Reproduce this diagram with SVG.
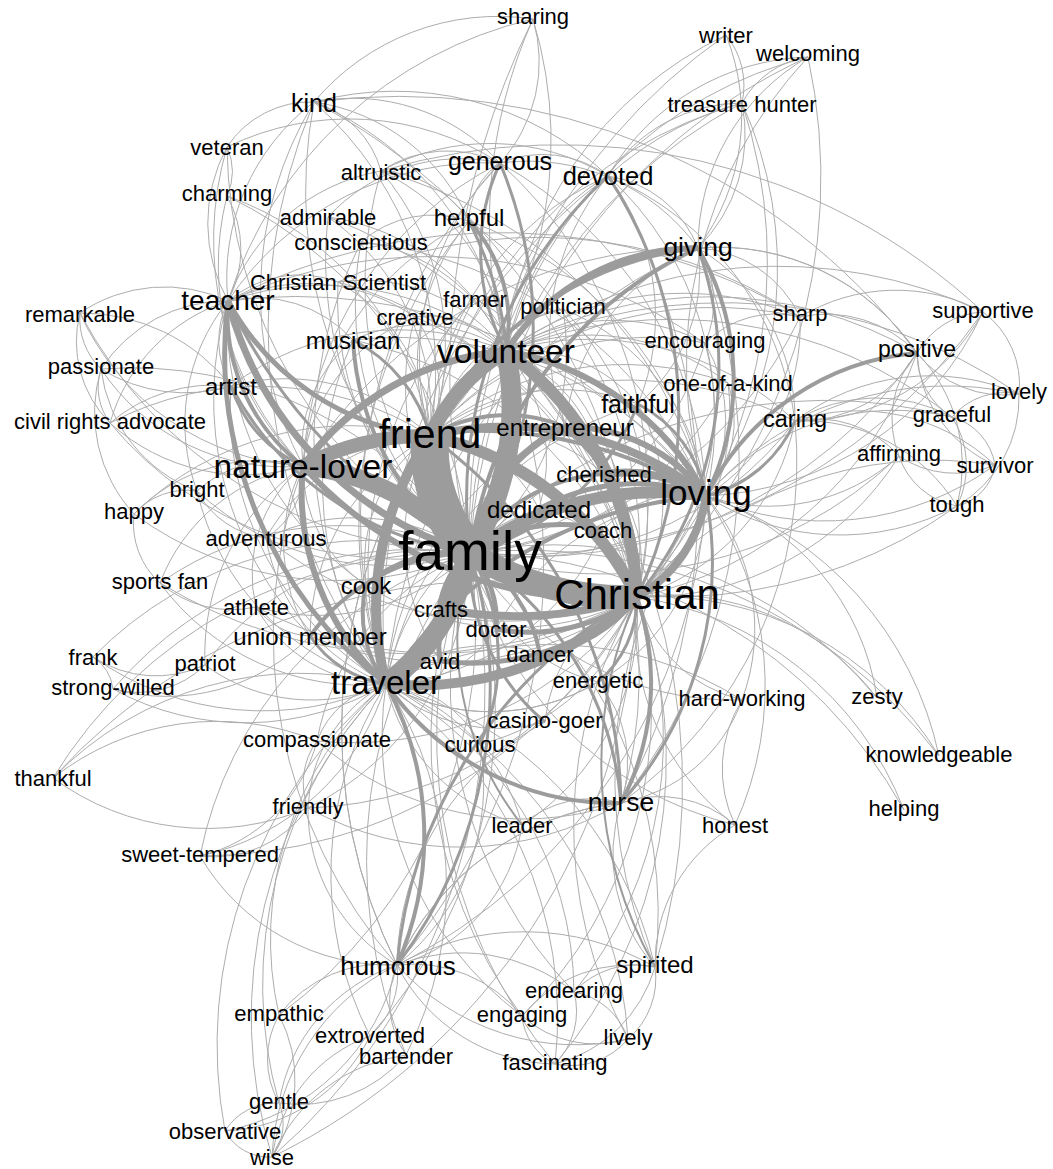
<svg xmlns="http://www.w3.org/2000/svg" width="1053" height="1169" viewBox="0 0 1053 1169" font-size="22">
<style>
.e{fill:none;stroke:#adadad;stroke-width:1}
.k{fill:none;stroke:#9c9c9c}
text{font-family:"Liberation Sans",Arial,sans-serif;fill:#000;text-anchor:middle;dominant-baseline:central}
</style>
<rect width="1053" height="1169" fill="#fff"/>
<g id="connectors">
<g class="e">
<path d="M533 19A800 800 0 0 0 470 553"/><path d="M533 19A500 500 0 0 0 506 351"/><path d="M533 19A240 240 0 0 0 314 102"/><path d="M533 19A420 420 0 0 0 228 301"/><path d="M533 19A420 420 0 0 1 430 436"/><path d="M533 19A150 150 0 0 1 500 163"/>
<path d="M726 35A600 600 0 0 0 470 553"/><path d="M726 35A80 80 0 0 1 742 103"/><path d="M726 35A390 390 0 0 0 506 351"/><path d="M726 35A220 220 0 0 1 698 248"/>
<path d="M808 57A240 240 0 0 0 608 176"/><path d="M808 57A420 420 0 0 0 506 351"/><path d="M808 57A580 580 0 0 0 470 553"/><path d="M808 57A220 220 0 0 0 698 248"/><path d="M808 57A450 450 0 0 0 706 496"/><path d="M808 57A570 570 0 0 1 637 597"/><path d="M808 57A90 90 0 0 0 742 103"/>
<path d="M742 103A160 160 0 0 0 608 176"/><path d="M742 103A160 160 0 0 1 698 248"/><path d="M742 103A330 330 0 0 0 506 351"/><path d="M742 103A510 510 0 0 0 470 553"/><path d="M742 103A400 400 0 0 1 706 496"/><path d="M742 103A500 500 0 0 1 637 597"/><path d="M742 103A440 440 0 0 0 430 436"/>
<path d="M314 102A370 370 0 0 0 303 466"/><path d="M314 102A590 590 0 0 0 386 684"/><path d="M314 102A360 360 0 0 1 430 436"/><path d="M314 102A480 480 0 0 0 470 553"/><path d="M314 102A100 100 0 0 0 227 147"/><path d="M314 102A100 100 0 0 1 381 171"/><path d="M314 102A200 200 0 0 1 500 163"/><path d="M314 102A320 320 0 0 1 506 351"/><path d="M314 102A220 220 0 0 0 228 301"/><path d="M314 102A200 200 0 0 1 469 221"/><path d="M314 102A600 600 0 0 1 637 597"/><path d="M314 102A310 310 0 0 1 608 176"/><path d="M314 102A650 650 0 0 1 917 353"/>
<path d="M227 147A160 160 0 0 0 228 301"/><path d="M227 147A330 330 0 0 0 303 466"/><path d="M227 147A280 280 0 0 1 500 163"/><path d="M227 147A470 470 0 0 0 470 553"/><path d="M227 147A60 60 0 0 1 227 196"/>
<path d="M227 196A110 110 0 0 1 228 301"/><path d="M227 196A280 280 0 0 0 303 466"/><path d="M227 196A430 430 0 0 1 470 553"/><path d="M227 196A310 310 0 0 1 430 436"/>
<path d="M381 171A120 120 0 0 1 500 163"/><path d="M381 171A220 220 0 0 1 506 351"/><path d="M381 171A400 400 0 0 0 470 553"/><path d="M381 171A200 200 0 0 0 228 301"/><path d="M381 171A110 110 0 0 1 469 221"/><path d="M381 171A270 270 0 0 1 430 436"/><path d="M381 171A460 460 0 0 1 706 496"/><path d="M381 171A230 230 0 0 1 608 176"/><path d="M381 171A620 620 0 0 1 983 312"/>
<path d="M328 217A370 370 0 0 0 470 553"/><path d="M328 217A230 230 0 0 1 506 351"/><path d="M328 217A180 180 0 0 1 500 163"/><path d="M328 217A240 240 0 0 1 430 436"/><path d="M328 217A480 480 0 0 1 637 597"/>
<path d="M361 242A330 330 0 0 0 470 553"/><path d="M361 242A180 180 0 0 1 506 351"/><path d="M361 242A110 110 0 0 1 469 221"/><path d="M361 242A445 445 0 0 0 386 684"/><path d="M361 242A420 420 0 0 1 706 496"/>
<path d="M338 282A310 310 0 0 0 470 553"/><path d="M338 282A420 420 0 0 1 637 597"/><path d="M338 282A180 180 0 0 1 506 351"/><path d="M338 282A110 110 0 0 0 228 301"/><path d="M338 282A180 180 0 0 1 430 436"/><path d="M338 282A470 470 0 0 1 800 317"/>
<path d="M500 163A280 280 0 0 0 430 436"/><path d="M500 163A450 450 0 0 1 637 597"/><path d="M500 163A400 400 0 0 1 706 496"/><path d="M500 163A110 110 0 0 1 608 176"/><path d="M500 163A210 210 0 0 1 698 248"/><path d="M500 163A70 70 0 0 0 469 221"/><path d="M500 163A310 310 0 0 0 228 301"/><path d="M500 163A530 530 0 0 0 386 684"/><path d="M500 163A360 360 0 0 0 303 466"/>
<path d="M608 176A200 200 0 0 0 506 351"/><path d="M608 176A330 330 0 0 1 706 496"/><path d="M608 176A115 115 0 0 1 698 248"/><path d="M608 176A300 300 0 0 0 430 436"/><path d="M608 176A560 560 0 0 0 386 684"/><path d="M608 176A255 255 0 0 0 565 427"/><path d="M608 176A230 230 0 0 1 638 404"/><path d="M608 176A310 310 0 0 1 795 421"/><path d="M608 176A630 630 0 0 1 621 803"/>
<path d="M469 221A220 220 0 0 0 430 436"/><path d="M469 221A400 400 0 0 1 637 597"/><path d="M469 221A300 300 0 0 0 303 466"/><path d="M469 221A475 475 0 0 0 386 684"/><path d="M469 221A370 370 0 0 1 706 496"/>
<path d="M698 248A220 220 0 0 0 565 427"/><path d="M698 248A170 170 0 0 1 638 404"/><path d="M698 248A520 520 0 0 0 386 684"/><path d="M698 248A460 460 0 0 0 303 466"/><path d="M698 248A200 200 0 0 1 795 421"/><path d="M698 248A560 560 0 0 1 621 803"/><path d="M698 248A240 240 0 0 1 917 353"/><path d="M698 248A100 100 0 0 1 705 343"/>
<path d="M475 298A255 255 0 0 0 470 553"/><path d="M475 298A340 340 0 0 1 637 597"/><path d="M475 298A70 70 0 0 1 506 351"/><path d="M475 298A145 145 0 0 0 430 436"/><path d="M475 298A390 390 0 0 0 386 684"/>
<path d="M563 309A260 260 0 0 1 470 553"/><path d="M563 309A300 300 0 0 1 637 597"/><path d="M563 309A70 70 0 0 0 506 351"/><path d="M563 309A185 185 0 0 0 430 436"/><path d="M563 309A230 230 0 0 1 706 496"/>
<path d="M415 317A250 250 0 0 0 470 553"/><path d="M415 317A100 100 0 0 1 506 351"/><path d="M415 317A120 120 0 0 1 430 436"/><path d="M415 317A370 370 0 0 1 637 597"/><path d="M415 317A180 180 0 0 0 303 466"/><path d="M415 317A190 190 0 0 0 228 301"/>
<path d="M353 340A155 155 0 0 1 506 351"/><path d="M353 340A350 350 0 0 0 386 684"/><path d="M353 340A380 380 0 0 1 637 597"/><path d="M353 340A140 140 0 0 0 303 466"/><path d="M353 340A130 130 0 0 0 228 301"/><path d="M353 340A380 380 0 0 1 706 496"/>
<path d="M228 301A290 290 0 0 1 506 351"/><path d="M228 301A90 90 0 0 0 231 386"/><path d="M228 301A520 520 0 0 1 706 496"/><path d="M228 301A340 340 0 0 0 310 636"/><path d="M228 301A320 320 0 0 0 366 585"/><path d="M228 301A575 575 0 0 1 800 317"/>
<path d="M80 313A150 150 0 0 1 228 301"/><path d="M80 313A70 70 0 0 0 101 369"/><path d="M80 313A260 260 0 0 0 303 466"/><path d="M80 313A190 190 0 0 1 231 386"/><path d="M80 313A115 115 0 0 0 110 423"/><path d="M80 313A450 450 0 0 0 470 553"/>
<path d="M101 369A150 150 0 0 1 228 301"/><path d="M101 369A220 220 0 0 0 303 466"/><path d="M101 369A160 160 0 0 0 231 386"/><path d="M101 369A400 400 0 0 1 470 553"/><path d="M101 369A60 60 0 0 0 110 423"/><path d="M101 369A150 150 0 0 0 197 491"/><path d="M101 369A150 150 0 0 0 134 514"/>
<path d="M110 423A200 200 0 0 0 303 466"/><path d="M110 423A160 160 0 0 1 231 386"/><path d="M110 423A380 380 0 0 0 470 553"/><path d="M110 423A180 180 0 0 1 228 301"/><path d="M110 423A320 320 0 0 1 430 436"/>
<path d="M231 386A210 210 0 0 1 430 436"/><path d="M231 386A320 320 0 0 0 386 684"/><path d="M231 386A280 280 0 0 1 506 351"/>
<path d="M197 491A110 110 0 0 1 303 466"/><path d="M197 491A280 280 0 0 0 470 553"/><path d="M197 491A70 70 0 0 0 134 514"/><path d="M197 491A195 195 0 0 1 228 301"/><path d="M197 491A90 90 0 0 0 266 538"/><path d="M197 491A260 260 0 0 0 386 684"/>
<path d="M134 514A175 175 0 0 1 303 466"/><path d="M134 514A340 340 0 0 0 470 553"/><path d="M134 514A80 80 0 0 0 160 583"/><path d="M134 514A310 310 0 0 1 430 436"/>
<path d="M266 538A205 205 0 0 1 470 553"/><path d="M266 538A80 80 0 0 0 303 466"/><path d="M266 538A190 190 0 0 0 386 684"/><path d="M266 538A200 200 0 0 1 430 436"/><path d="M266 538A380 380 0 0 0 637 597"/>
<path d="M160 583A315 315 0 0 1 470 553"/><path d="M160 583A185 185 0 0 1 303 466"/><path d="M160 583A250 250 0 0 0 386 684"/><path d="M160 583A110 110 0 0 0 256 607"/><path d="M160 583A480 480 0 0 0 637 597"/>
<path d="M256 607A220 220 0 0 0 470 553"/><path d="M256 607A150 150 0 0 0 386 684"/><path d="M256 607A140 140 0 0 1 303 466"/><path d="M256 607A70 70 0 0 0 310 636"/><path d="M256 607A380 380 0 0 0 637 597"/>
<path d="M366 585A155 155 0 0 1 430 436"/><path d="M366 585A270 270 0 0 0 637 597"/><path d="M366 585A140 140 0 0 1 303 466"/>
<path d="M310 636A170 170 0 0 1 303 466"/><path d="M310 636A330 330 0 0 0 637 597"/><path d="M310 636A230 230 0 0 1 430 436"/>
<path d="M93 657A115 115 0 0 0 205 665"/><path d="M93 657A295 295 0 0 0 386 684"/><path d="M93 657A45 45 0 0 1 113 689"/><path d="M93 657A390 390 0 0 1 470 553"/>
<path d="M205 665A180 180 0 0 0 386 684"/><path d="M205 665A280 280 0 0 1 470 553"/><path d="M205 665A230 230 0 0 1 303 466"/>
<path d="M113 689A275 275 0 0 0 386 684"/><path d="M113 689A400 400 0 0 1 470 553"/><path d="M113 689A95 95 0 0 0 205 665"/><path d="M113 689A200 200 0 0 0 310 636"/>
<path d="M317 741A90 90 0 0 1 386 684"/><path d="M317 741A250 250 0 0 1 470 553"/><path d="M317 741A350 350 0 0 0 637 597"/><path d="M317 741A265 265 0 0 0 53 778"/><path d="M317 741A70 70 0 0 0 308 808"/><path d="M317 741A310 310 0 0 0 621 803"/><path d="M317 741A160 160 0 0 1 200 856"/>
<path d="M53 778A345 345 0 0 1 386 684"/><path d="M53 778A260 260 0 0 0 308 808"/><path d="M53 778A470 470 0 0 1 470 553"/><path d="M53 778A600 600 0 0 1 637 597"/>
<path d="M308 808A145 145 0 0 1 386 684"/><path d="M308 808A290 290 0 0 0 470 553"/><path d="M308 808A380 380 0 0 0 637 597"/><path d="M308 808A180 180 0 0 0 397 965"/><path d="M308 808A115 115 0 0 1 200 856"/><path d="M308 808A315 315 0 0 0 621 803"/>
<path d="M200 856A250 250 0 0 0 386 684"/><path d="M200 856A400 400 0 0 1 470 553"/><path d="M200 856A220 220 0 0 0 397 965"/><path d="M200 856A500 500 0 0 0 637 597"/>
<path d="M386 684A225 225 0 0 1 539 509"/><path d="M386 684A320 320 0 0 1 565 427"/><path d="M386 684A110 110 0 0 1 480 744"/><path d="M386 684A165 165 0 0 0 545 722"/><path d="M386 684A190 190 0 0 0 522 825"/><path d="M386 684A210 210 0 0 0 598 682"/>
<path d="M441 609A95 95 0 0 1 386 684"/><path d="M441 609A175 175 0 0 0 430 436"/>
<path d="M496 629A120 120 0 0 1 386 684"/><path d="M496 629A250 250 0 0 1 706 496"/>
<path d="M540 654A155 155 0 0 0 386 684"/>
<path d="M440 661A60 60 0 0 0 386 684"/><path d="M440 661A225 225 0 0 1 430 436"/>
<path d="M598 682A175 175 0 0 1 470 553"/><path d="M598 682A210 210 0 0 1 386 684"/><path d="M598 682A215 215 0 0 0 706 496"/><path d="M598 682A125 125 0 0 1 621 803"/>
<path d="M742 700A145 145 0 0 1 637 597"/><path d="M742 700A310 310 0 0 1 470 553"/><path d="M742 700A205 205 0 0 0 706 496"/><path d="M742 700A160 160 0 0 1 621 803"/><path d="M742 700A360 360 0 0 0 386 684"/><path d="M742 700A130 130 0 0 0 735 825"/>
<path d="M877 698A260 260 0 0 0 637 597"/><path d="M877 698A250 250 0 0 0 706 496"/><path d="M877 698A420 420 0 0 0 470 553"/>
<path d="M939 756A330 330 0 0 0 637 597"/><path d="M939 756A520 520 0 0 0 470 553"/><path d="M939 756A350 350 0 0 0 706 496"/>
<path d="M904 810A340 340 0 0 0 637 597"/><path d="M904 810A500 500 0 0 0 470 553"/>
<path d="M899 456A195 195 0 0 1 706 496"/><path d="M899 456A300 300 0 0 1 637 597"/><path d="M899 456A100 100 0 0 1 917 353"/><path d="M899 456A75 75 0 0 0 957 506"/><path d="M899 456A100 100 0 0 0 995 465"/><path d="M899 456A430 430 0 0 1 470 553"/><path d="M899 456A110 110 0 0 0 795 421"/>
<path d="M995 465A290 290 0 0 1 706 496"/><path d="M995 465A130 130 0 0 1 917 353"/><path d="M995 465A50 50 0 0 1 957 506"/><path d="M995 465A60 60 0 0 0 952 417"/><path d="M995 465A390 390 0 0 0 637 597"/><path d="M995 465A200 200 0 0 0 795 421"/>
<path d="M957 506A250 250 0 0 1 706 496"/><path d="M957 506A160 160 0 0 0 917 353"/><path d="M957 506A180 180 0 0 0 795 421"/><path d="M957 506A90 90 0 0 0 952 417"/><path d="M957 506A490 490 0 0 1 470 553"/><path d="M957 506A125 125 0 0 0 1019 394"/>
<path d="M952 417A250 250 0 0 0 706 496"/><path d="M952 417A75 75 0 0 1 917 353"/><path d="M952 417A157 157 0 0 0 795 421"/><path d="M952 417A70 70 0 0 1 1019 394"/><path d="M952 417A450 450 0 0 0 506 351"/><path d="M952 417A490 490 0 0 0 470 553"/>
<path d="M1019 394A320 320 0 0 0 706 496"/><path d="M1019 394A110 110 0 0 1 917 353"/><path d="M1019 394A225 225 0 0 0 795 421"/><path d="M1019 394A90 90 0 0 0 983 312"/><path d="M1019 394A520 520 0 0 0 506 351"/>
<path d="M983 312A320 320 0 0 1 706 496"/><path d="M983 312A185 185 0 0 0 800 317"/><path d="M983 312A80 80 0 0 0 917 353"/><path d="M983 312A210 210 0 0 1 795 421"/><path d="M983 312A480 480 0 0 0 506 351"/><path d="M983 312A570 570 0 0 1 470 553"/>
<path d="M917 353A410 410 0 0 0 506 351"/><path d="M917 353A470 470 0 0 1 470 553"/><path d="M917 353A135 135 0 0 1 795 421"/><path d="M917 353A380 380 0 0 1 637 597"/><path d="M917 353A125 125 0 0 0 800 317"/><path d="M917 353A240 240 0 0 0 698 248"/>
<path d="M800 317A200 200 0 0 1 706 496"/><path d="M800 317A300 300 0 0 0 506 351"/><path d="M800 317A420 420 0 0 1 470 553"/><path d="M800 317A100 100 0 0 0 705 343"/><path d="M800 317A120 120 0 0 0 698 248"/><path d="M800 317A380 380 0 0 0 430 436"/>
<path d="M705 343A155 155 0 0 1 706 496"/><path d="M705 343A200 200 0 0 0 506 351"/><path d="M705 343A300 300 0 0 1 470 553"/><path d="M705 343A260 260 0 0 1 637 597"/><path d="M705 343A290 290 0 0 0 430 436"/><path d="M705 343A480 480 0 0 0 228 301"/>
<path d="M728 383A115 115 0 0 1 706 496"/><path d="M728 383A315 315 0 0 1 470 553"/><path d="M728 383A225 225 0 0 0 506 351"/><path d="M728 383A230 230 0 0 1 637 597"/><path d="M728 383A300 300 0 0 0 430 436"/>
<path d="M795 421A340 340 0 0 1 470 553"/><path d="M795 421A230 230 0 0 1 637 597"/><path d="M795 421A300 300 0 0 0 506 351"/><path d="M795 421A370 370 0 0 0 430 436"/><path d="M795 421A420 420 0 0 1 621 803"/>
<path d="M638 404A195 195 0 0 1 637 597"/><path d="M638 404A150 150 0 0 0 506 351"/><path d="M638 404A210 210 0 0 0 430 436"/><path d="M638 404A370 370 0 0 0 386 684"/>
<path d="M565 427A95 95 0 0 0 506 351"/>
<path d="M604 474A125 125 0 0 1 637 597"/><path d="M604 474A180 180 0 0 0 430 436"/><path d="M604 474A160 160 0 0 0 506 351"/>
<path d="M539 509A130 130 0 0 1 637 597"/><path d="M539 509A130 130 0 0 0 430 436"/><path d="M539 509A165 165 0 0 0 506 351"/>
<path d="M603 530A75 75 0 0 1 637 597"/><path d="M603 530A110 110 0 0 1 706 496"/><path d="M603 530A250 250 0 0 1 386 684"/>
<path d="M506 351A460 460 0 0 1 621 803"/><path d="M506 351A620 620 0 0 1 397 965"/><path d="M506 351A620 620 0 0 1 655 967"/>
<path d="M430 436A530 530 0 0 0 397 965"/><path d="M303 466A500 500 0 0 0 397 965"/>
<path d="M621 803A280 280 0 0 0 397 965"/><path d="M621 803A170 170 0 0 0 655 967"/><path d="M621 803A105 105 0 0 0 522 825"/><path d="M621 803A115 115 0 0 1 735 825"/>
<path d="M522 825A200 200 0 0 0 386 684"/><path d="M522 825A250 250 0 0 0 637 597"/><path d="M522 825A170 170 0 0 1 397 965"/>
<path d="M735 825A250 250 0 0 1 637 597"/><path d="M735 825A335 335 0 0 0 706 496"/><path d="M735 825A360 360 0 0 1 470 553"/><path d="M735 825A160 160 0 0 0 655 967"/>
<path d="M545 722A150 150 0 0 1 637 597"/><path d="M545 722A280 280 0 0 0 397 965"/>
<path d="M480 744A215 215 0 0 0 637 597"/><path d="M480 744A230 230 0 0 1 397 965"/>
<path d="M397 965A530 530 0 0 1 430 436"/><path d="M397 965A130 130 0 0 0 279 1015"/><path d="M397 965A80 80 0 0 1 370 1036"/><path d="M397 965A95 95 0 0 0 406 1055"/><path d="M397 965A140 140 0 0 1 522 1016"/><path d="M397 965A180 180 0 0 1 574 992"/><path d="M397 965A240 240 0 0 0 628 1039"/><path d="M397 965A180 180 0 0 0 555 1064"/><path d="M397 965A175 175 0 0 0 279 1103"/><path d="M397 965A220 220 0 0 1 225 1131"/><path d="M397 965A225 225 0 0 0 272 1157"/><path d="M397 965A260 260 0 0 1 655 967"/><path d="M397 965A560 560 0 0 0 706 496"/><path d="M397 965A280 280 0 0 1 621 803"/>
<path d="M655 967A440 440 0 0 0 470 553"/><path d="M655 967A380 380 0 0 0 386 684"/><path d="M655 967A85 85 0 0 0 574 992"/><path d="M655 967A80 80 0 0 1 628 1039"/><path d="M655 967A140 140 0 0 0 522 1016"/><path d="M655 967A140 140 0 0 1 555 1064"/><path d="M655 967A475 475 0 0 1 706 496"/>
<path d="M574 992A400 400 0 0 0 637 597"/><path d="M574 992A445 445 0 0 1 470 553"/><path d="M574 992A350 350 0 0 0 386 684"/><path d="M574 992A70 70 0 0 1 628 1039"/><path d="M574 992A75 75 0 0 1 555 1064"/>
<path d="M522 1016A465 465 0 0 1 470 553"/><path d="M522 1016A350 350 0 0 1 386 684"/><path d="M522 1016A110 110 0 0 0 628 1039"/><path d="M522 1016A60 60 0 0 0 555 1064"/><path d="M522 1016A430 430 0 0 0 637 597"/>
<path d="M628 1039A445 445 0 0 1 637 597"/><path d="M628 1039A420 420 0 0 0 386 684"/><path d="M628 1039A75 75 0 0 1 555 1064"/>
<path d="M555 1064A515 515 0 0 1 470 553"/><path d="M555 1064A410 410 0 0 0 386 684"/><path d="M555 1064A470 470 0 0 0 637 597"/>
<path d="M279 1015A340 340 0 0 1 386 684"/><path d="M279 1015A90 90 0 0 0 279 1103"/><path d="M279 1015A140 140 0 0 1 272 1157"/><path d="M279 1015A480 480 0 0 0 470 553"/>
<path d="M370 1036A355 355 0 0 1 386 684"/><path d="M370 1036A490 490 0 0 0 470 553"/><path d="M370 1036A170 170 0 0 1 225 1131"/><path d="M370 1036A150 150 0 0 0 272 1157"/>
<path d="M406 1055A370 370 0 0 0 386 684"/><path d="M406 1055A505 505 0 0 1 470 553"/><path d="M406 1055A140 140 0 0 1 279 1103"/><path d="M406 1055A170 170 0 0 0 272 1157"/>
<path d="M279 1103A430 430 0 0 1 386 684"/><path d="M279 1103A60 60 0 0 0 225 1131"/><path d="M279 1103A55 55 0 0 1 272 1157"/>
<path d="M225 1131A470 470 0 0 1 386 684"/><path d="M225 1131A50 50 0 0 0 272 1157"/>
<path d="M272 1157A480 480 0 0 1 386 684"/><path d="M272 1157A620 620 0 0 0 470 553"/><path d="M272 1157A650 650 0 0 0 637 597"/>
</g>
<g class="k">
<path d="M228 301A520 520 0 0 0 637 597" stroke-width="3"/>
<path d="M608 176A430 430 0 0 1 637 597" stroke-width="3"/>
<path d="M608 176A440 440 0 0 0 470 553" stroke-width="3"/>
<path d="M500 163A430 430 0 0 1 470 553" stroke-width="3"/>
<path d="M500 163A210 210 0 0 0 506 351" stroke-width="3"/>
<path d="M469 221A150 150 0 0 1 506 351" stroke-width="4"/>
<path d="M469 221A370 370 0 0 1 470 553" stroke-width="3"/>
<path d="M698 248A230 230 0 0 0 506 351" stroke-width="6"/>
<path d="M698 248A400 400 0 0 0 470 553" stroke-width="4"/>
<path d="M698 248A360 360 0 0 1 637 597" stroke-width="3"/>
<path d="M698 248A260 260 0 0 1 706 496" stroke-width="4"/>
<path d="M698 248A340 340 0 0 0 430 436" stroke-width="4"/>
<path d="M917 353A260 260 0 0 0 706 496" stroke-width="4"/>
<path d="M795 421A130 130 0 0 1 706 496" stroke-width="3"/>
<path d="M638 404A130 130 0 0 1 706 496" stroke-width="3"/>
<path d="M638 404A250 250 0 0 1 470 553" stroke-width="3"/>
<path d="M397 965A320 320 0 0 0 386 684" stroke-width="4"/>
<path d="M397 965A460 460 0 0 0 470 553" stroke-width="3"/>
<path d="M397 965A470 470 0 0 1 637 597" stroke-width="3"/>
<path d="M621 803A260 260 0 0 0 637 597" stroke-width="4"/>
<path d="M621 803A330 330 0 0 0 470 553" stroke-width="3"/>
<path d="M621 803A280 280 0 0 1 386 684" stroke-width="4"/>
<path d="M621 803A460 460 0 0 0 430 436" stroke-width="3"/>
<path d="M706 496A360 360 0 0 1 621 803" stroke-width="3"/>
<path d="M706 496A420 420 0 0 0 386 684" stroke-width="4"/>
<path d="M655 967A410 410 0 0 1 637 597" stroke-width="2"/>
<path d="M522 825A300 300 0 0 1 470 553" stroke-width="2"/>
<path d="M598 682A110 110 0 0 0 637 597" stroke-width="3"/>
<path d="M545 722A210 210 0 0 1 470 553" stroke-width="3"/>
<path d="M480 744A210 210 0 0 0 470 553" stroke-width="3"/>
<path d="M353 340A280 280 0 0 0 470 553" stroke-width="4"/>
<path d="M353 340A150 150 0 0 1 430 436" stroke-width="3"/>
<path d="M231 386A130 130 0 0 0 303 466" stroke-width="3"/>
<path d="M231 386A320 320 0 0 0 470 553" stroke-width="3"/>
<path d="M228 301A360 360 0 0 0 470 553" stroke-width="7"/>
<path d="M228 301A260 260 0 0 0 430 436" stroke-width="5"/>
<path d="M228 301A420 420 0 0 0 386 684" stroke-width="5"/>
<path d="M228 301A190 190 0 0 0 303 466" stroke-width="4"/>
<path d="M310 636A200 200 0 0 1 470 553" stroke-width="4"/>
<path d="M310 636A110 110 0 0 0 386 684" stroke-width="3"/>
<path d="M366 585A140 140 0 0 1 470 553" stroke-width="5"/>
<path d="M366 585A120 120 0 0 0 386 684" stroke-width="4"/>
<path d="M496 629A100 100 0 0 0 470 553" stroke-width="5"/>
<path d="M496 629A180 180 0 0 0 637 597" stroke-width="5"/>
<path d="M540 654A150 150 0 0 0 637 597" stroke-width="6"/>
<path d="M540 654A150 150 0 0 0 470 553" stroke-width="4"/>
<path d="M440 661A140 140 0 0 1 470 553" stroke-width="5"/>
<path d="M440 661A240 240 0 0 0 637 597" stroke-width="5"/>
<path d="M441 609A100 100 0 0 1 470 553" stroke-width="9"/>
<path d="M441 609A400 400 0 0 0 637 597" stroke-width="8"/>
<path d="M603 530A160 160 0 0 0 470 553" stroke-width="5"/>
<path d="M539 509A120 120 0 0 1 470 553" stroke-width="7"/>
<path d="M539 509A200 200 0 0 1 706 496" stroke-width="5"/>
<path d="M604 474A150 150 0 0 1 706 496" stroke-width="8"/>
<path d="M604 474A170 170 0 0 0 470 553" stroke-width="4"/>
<path d="M565 427A170 170 0 0 0 470 553" stroke-width="7"/>
<path d="M565 427A170 170 0 0 1 706 496" stroke-width="6"/>
<path d="M565 427A200 200 0 0 1 637 597" stroke-width="5"/>
<path d="M565 427A150 150 0 0 0 430 436" stroke-width="4"/>
<path d="M506 351A280 280 0 0 1 706 496" stroke-width="6"/>
<path d="M430 436A320 320 0 0 1 706 496" stroke-width="8"/>
<path d="M303 466A440 440 0 0 1 706 496" stroke-width="4"/>
<path d="M303 466A260 260 0 0 0 386 684" stroke-width="6"/>
<path d="M303 466A400 400 0 0 0 637 597" stroke-width="6"/>
<path d="M706 496A140 140 0 0 1 637 597" stroke-width="8"/>
<path d="M386 684A420 420 0 0 0 506 351" stroke-width="7"/>
<path d="M303 466A280 280 0 0 1 506 351" stroke-width="7"/>
<path d="M386 684A320 320 0 0 0 637 597" stroke-width="10"/>
<path d="M386 684A300 300 0 0 1 430 436" stroke-width="10"/>
<path d="M430 436A300 300 0 0 1 637 597" stroke-width="12"/>
<path d="M506 351A320 320 0 0 1 637 597" stroke-width="12"/>
<path d="M470 553A320 320 0 0 1 706 496" stroke-width="12"/>
<path d="M303 466A260 260 0 0 1 430 436" stroke-width="14"/>
<path d="M430 436A200 200 0 0 1 506 351" stroke-width="14"/>
<path d="M470 553A260 260 0 0 0 303 466" stroke-width="18"/>
<path d="M470 553A220 220 0 0 1 386 684" stroke-width="20"/>
<path d="M470 553A280 280 0 0 0 506 351" stroke-width="20"/>
<path d="M470 553A300 300 0 0 0 637 597" stroke-width="24"/>
<path d="M430 436A160 160 0 0 0 470 553" stroke-width="38"/>
</g>
</g>
<g id="n-sharing"><text x="533" y="16">sharing</text></g>
<g id="n-writer"><text x="726" y="35">writer</text></g>
<g id="n-welcoming"><text x="808" y="53">welcoming</text></g>
<g id="n-treasure-hunter"><text x="742" y="104">treasure hunter</text></g>
<g id="n-kind"><text x="314" y="103" font-size="25">kind</text></g>
<g id="n-veteran"><text x="227" y="147">veteran</text></g>
<g id="n-altruistic"><text x="381" y="172">altruistic</text></g>
<g id="n-generous"><text x="500" y="161" font-size="25">generous</text></g>
<g id="n-devoted"><text x="608" y="176" font-size="25.5">devoted</text></g>
<g id="n-charming"><text x="227" y="193">charming</text></g>
<g id="n-admirable"><text x="328" y="217">admirable</text></g>
<g id="n-helpful"><text x="469" y="217" font-size="24">helpful</text></g>
<g id="n-conscientious"><text x="361" y="242">conscientious</text></g>
<g id="n-giving"><text x="698" y="247" font-size="26.5">giving</text></g>
<g id="n-christian-scientist"><text x="338" y="282">Christian Scientist</text></g>
<g id="n-teacher"><text x="228" y="300" font-size="28">teacher</text></g>
<g id="n-farmer"><text x="475" y="299">farmer</text></g>
<g id="n-politician"><text x="563" y="306">politician</text></g>
<g id="n-remarkable"><text x="80" y="314">remarkable</text></g>
<g id="n-creative"><text x="415" y="317">creative</text></g>
<g id="n-sharp"><text x="800" y="313">sharp</text></g>
<g id="n-supportive"><text x="983" y="310">supportive</text></g>
<g id="n-musician"><text x="353" y="340" font-size="24">musician</text></g>
<g id="n-encouraging"><text x="705" y="340">encouraging</text></g>
<g id="n-volunteer"><text x="506" y="351" font-size="33.5">volunteer</text></g>
<g id="n-positive"><text x="917" y="349" font-size="23">positive</text></g>
<g id="n-passionate"><text x="101" y="366">passionate</text></g>
<g id="n-artist"><text x="231" y="386" font-size="24">artist</text></g>
<g id="n-one-of-a-kind"><text x="728" y="383">one-of-a-kind</text></g>
<g id="n-lovely"><text x="1019" y="391">lovely</text></g>
<g id="n-faithful"><text x="638" y="404" font-size="25">faithful</text></g>
<g id="n-civil-rights-advocate"><text x="110" y="421">civil rights advocate</text></g>
<g id="n-friend"><text x="430" y="434" font-size="41">friend</text></g>
<g id="n-entrepreneur"><text x="565" y="427" font-size="24">entrepreneur</text></g>
<g id="n-caring"><text x="795" y="419" font-size="23.5">caring</text></g>
<g id="n-graceful"><text x="952" y="414">graceful</text></g>
<g id="n-affirming"><text x="899" y="453">affirming</text></g>
<g id="n-survivor"><text x="995" y="465">survivor</text></g>
<g id="n-nature-lover"><text x="303" y="466" font-size="33.5">nature-lover</text></g>
<g id="n-cherished"><text x="604" y="474">cherished</text></g>
<g id="n-bright"><text x="197" y="489">bright</text></g>
<g id="n-loving"><text x="706" y="492" font-size="35">loving</text></g>
<g id="n-dedicated"><text x="539" y="509" font-size="24">dedicated</text></g>
<g id="n-happy"><text x="134" y="511">happy</text></g>
<g id="n-tough"><text x="957" y="504">tough</text></g>
<g id="n-coach"><text x="603" y="530">coach</text></g>
<g id="n-adventurous"><text x="266" y="538">adventurous</text></g>
<g id="n-family"><text x="470" y="551" font-size="55">family</text></g>
<g id="n-sports-fan"><text x="160" y="581">sports fan</text></g>
<g id="n-cook"><text x="366" y="585" font-size="24">cook</text></g>
<g id="n-christian"><text x="637" y="594" font-size="42">Christian</text></g>
<g id="n-athlete"><text x="256" y="607">athlete</text></g>
<g id="n-crafts"><text x="441" y="609">crafts</text></g>
<g id="n-doctor"><text x="496" y="629">doctor</text></g>
<g id="n-union-member"><text x="310" y="636" font-size="24">union member</text></g>
<g id="n-frank"><text x="93" y="657">frank</text></g>
<g id="n-dancer"><text x="540" y="654">dancer</text></g>
<g id="n-patriot"><text x="205" y="663">patriot</text></g>
<g id="n-avid"><text x="440" y="661">avid</text></g>
<g id="n-strong-willed"><text x="113" y="687">strong-willed</text></g>
<g id="n-traveler"><text x="386" y="682" font-size="33">traveler</text></g>
<g id="n-energetic"><text x="598" y="680">energetic</text></g>
<g id="n-hard-working"><text x="742" y="698">hard-working</text></g>
<g id="n-zesty"><text x="877" y="696">zesty</text></g>
<g id="n-casino-goer"><text x="545" y="720">casino-goer</text></g>
<g id="n-compassionate"><text x="317" y="739">compassionate</text></g>
<g id="n-curious"><text x="480" y="744">curious</text></g>
<g id="n-knowledgeable"><text x="939" y="754">knowledgeable</text></g>
<g id="n-thankful"><text x="53" y="778">thankful</text></g>
<g id="n-friendly"><text x="308" y="806">friendly</text></g>
<g id="n-nurse"><text x="621" y="802" font-size="26.5">nurse</text></g>
<g id="n-helping"><text x="904" y="808">helping</text></g>
<g id="n-leader"><text x="522" y="825">leader</text></g>
<g id="n-honest"><text x="735" y="825">honest</text></g>
<g id="n-sweet-tempered"><text x="200" y="854">sweet-tempered</text></g>
<g id="n-humorous"><text x="398" y="966" font-size="26">humorous</text></g>
<g id="n-spirited"><text x="655" y="964" font-size="24">spirited</text></g>
<g id="n-endearing"><text x="574" y="990">endearing</text></g>
<g id="n-empathic"><text x="279" y="1013">empathic</text></g>
<g id="n-engaging"><text x="522" y="1014">engaging</text></g>
<g id="n-extroverted"><text x="370" y="1035">extroverted</text></g>
<g id="n-lively"><text x="628" y="1037">lively</text></g>
<g id="n-bartender"><text x="406" y="1056">bartender</text></g>
<g id="n-fascinating"><text x="555" y="1062">fascinating</text></g>
<g id="n-gentle"><text x="279" y="1101">gentle</text></g>
<g id="n-observative"><text x="225" y="1131">observative</text></g>
<g id="n-wise"><text x="272" y="1157">wise</text></g>
</svg>
